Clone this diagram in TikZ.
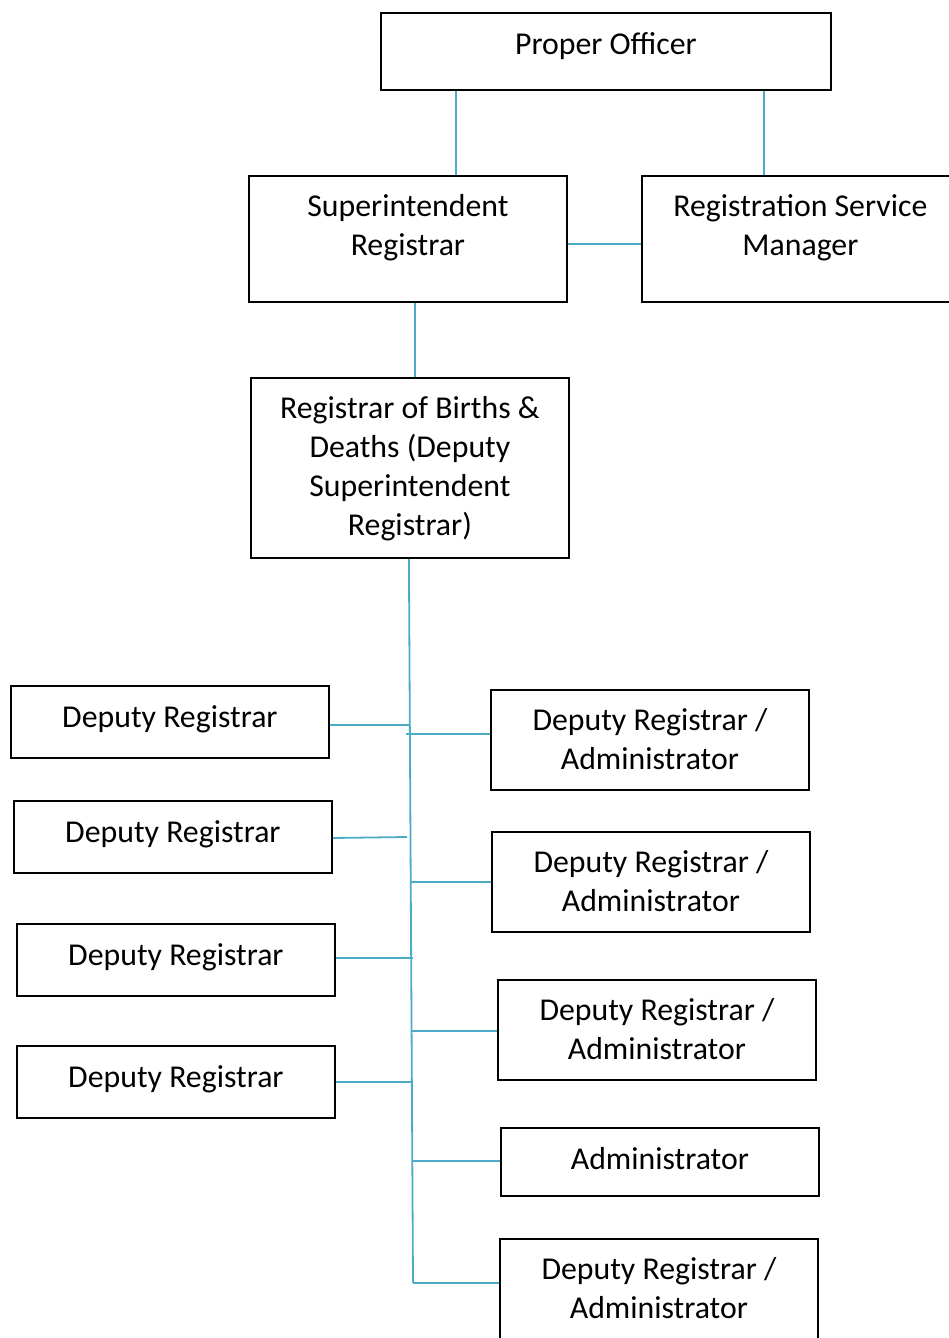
\documentclass[tikz,border=0pt]{standalone}
\usepackage{fontspec}
\setmainfont{Carlito}
\begin{document}
\begin{tikzpicture}[x=1pt,y=-1pt,
  box/.style={draw=black, line width=1.8pt, anchor=north west, inner sep=0pt},
  lbl/.style={anchor=north, align=center, inner sep=0pt, font=\fontsize{31.8}{39}\selectfont, execute at begin node=\strut},
  conn/.style={draw={rgb,255:red,75;green,172;blue,198}, line width=1.8pt}]
\useasboundingbox (0,0) rectangle (949,1338);
% boxes
\node[box, minimum width=450pt, minimum height=77pt] (po) at (380,12) {};
\node[box, minimum width=318pt, minimum height=126pt] (sup) at (248,175) {};
\node[box, minimum width=317pt, minimum height=126pt] (rsm) at (641,175) {};
\node[box, minimum width=318pt, minimum height=180pt] (reg) at (250,377) {};
\node[box, minimum width=318pt, minimum height=72pt] (l1) at (10,685) {};
\node[box, minimum width=318pt, minimum height=72pt] (l2) at (13,800) {};
\node[box, minimum width=318pt, minimum height=72pt] (l3) at (16,923) {};
\node[box, minimum width=318pt, minimum height=72pt] (l4) at (16,1045) {};
\node[box, minimum width=318pt, minimum height=100pt] (r1) at (490,689) {};
\node[box, minimum width=318pt, minimum height=100pt] (r2) at (491,831) {};
\node[box, minimum width=318pt, minimum height=100pt] (r3) at (497,979) {};
\node[box, minimum width=318pt, minimum height=68pt] (r4) at (500,1127) {};
\node[box, minimum width=318pt, minimum height=110pt] (r5) at (499,1238) {};
% labels
\node[lbl] (tpo) at ([yshift=-14.7pt]po.north) {Proper Officer};
\node[lbl] (tsup) at ([yshift=-19.7pt]sup.north) {Superintendent\\Registrar};
\node[lbl] (trsm) at ([yshift=-19.7pt]rsm.north) {Registration Service\\Manager};
\node[lbl] (treg) at ([yshift=-19.7pt]reg.north) {Registrar of Births \&\\Deaths (Deputy\\Superintendent\\Registrar)};
\node[lbl] (tl1) at ([yshift=-14.7pt]l1.north) {Deputy Registrar};
\node[lbl] (tl2) at ([yshift=-14.7pt]l2.north) {Deputy Registrar};
\node[lbl] (tl3) at ([yshift=-14.7pt]l3.north) {Deputy Registrar};
\node[lbl] (tl4) at ([yshift=-14.7pt]l4.north) {Deputy Registrar};
\node[lbl] (tr1) at ([yshift=-19.7pt]r1.north) {Deputy Registrar /\\Administrator};
\node[lbl] (tr2) at ([yshift=-19.7pt]r2.north) {Deputy Registrar /\\Administrator};
\node[lbl] (tr3) at ([yshift=-19.7pt]r3.north) {Deputy Registrar /\\Administrator};
\node[lbl] (tr4) at ([yshift=-14.7pt]r4.north) {Administrator};
\node[lbl] (tr5) at ([yshift=-19.7pt]r5.north) {Deputy Registrar /\\Administrator};
% connectors top
\draw[conn] ([xshift=76pt]po.south west) -- ([xshift=76pt]po.south west |- sup.north);
\draw[conn] ([xshift=384pt]po.south west) -- ([xshift=384pt]po.south west |- rsm.north);
\draw[conn] ([yshift=-5pt]sup.east) -- ([yshift=-5pt]sup.east -| rsm.west);
\draw[conn] ([xshift=7pt]sup.south) -- ([xshift=7pt]sup.south |- reg.north);
% trunk
\coordinate (tend) at (413,1283);
\draw[conn] ([xshift=-1pt]reg.south) -- (tend);
\coordinate (j1) at (410,725);
\coordinate (j2) at (407,837);
\coordinate (j3) at (413,958);
\coordinate (j4) at (413,1082);
\coordinate (k1) at (406,734);
\coordinate (k2) at (411,882);
\coordinate (k3) at (412,1031);
\coordinate (k4) at (413,1161);
\draw[conn] (j1 -| l1.east) -- (j1);
\draw[conn] ([yshift=-1pt]j2 -| l2.east) -- (j2);
\draw[conn] (j3 -| l3.east) -- (j3);
\draw[conn] (j4 -| l4.east) -- (j4);
\draw[conn] (k1) -- (k1 -| r1.west);
\draw[conn] (k2) -- (k2 -| r2.west);
\draw[conn] (k3) -- (k3 -| r3.west);
\draw[conn] (k4) -- (k4 -| r4.west);
\draw[conn] (tend) -- (tend -| r5.west);
\end{tikzpicture}
\end{document}
